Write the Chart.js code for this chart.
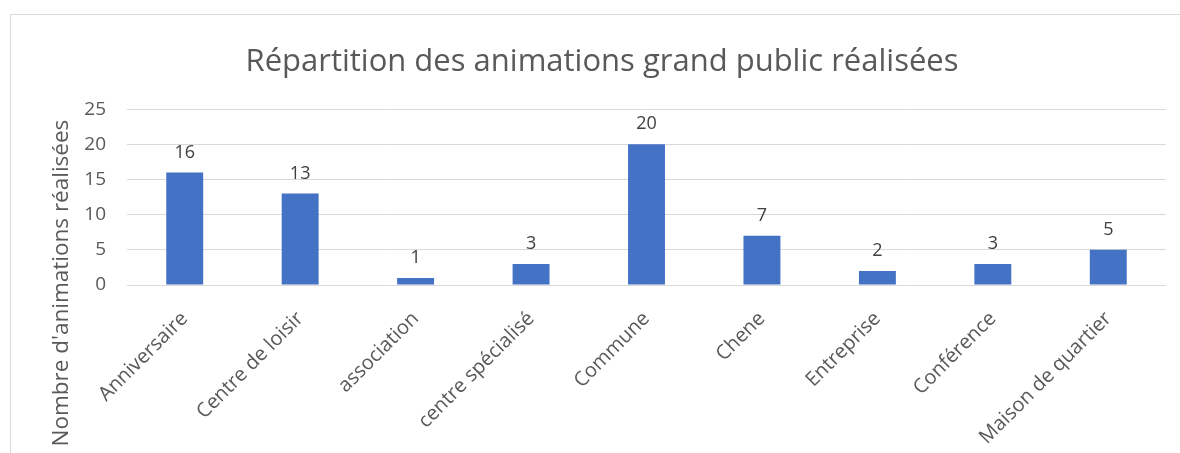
<!DOCTYPE html>
<html>
<head>
<meta charset="utf-8">
<script src="https://cdn.jsdelivr.net/npm/chart.js@4"></script>
<style>
  body { margin: 0; background: #fff; }
  #frame {
    position: absolute; left: 10px; top: 14px; width: 1180px; height: 460px;
    border: 1px solid #d9d9d9; box-sizing: border-box;
  }
  #wrap { position: absolute; left: 0; top: 0; width: 1180px; height: 453px; }
</style>
</head>
<body>
<div id="frame"></div>
<div id="wrap"><canvas id="myChart" width="1180" height="453"></canvas></div>
<script>
const categories = ['Anniversaire', 'Centre de loisir', 'association', 'centre spécialisé', 'Commune', 'Chene', 'Entreprise', 'Conférence', 'Maison de quartier'];
const animations = [16, 13, 1, 3, 20, 7, 2, 3, 5];
const yTicks = [0, 5, 10, 15, 20, 25];

const fontName = '"Open Sans", sans-serif';

// valeurs au-dessus des barres
const valueLabels = {
  id: 'valueLabels',
  afterDatasetsDraw(chart) {
    const ctx = chart.ctx;
    const meta = chart.getDatasetMeta(0);
    ctx.save();
    ctx.fillStyle = '#404040';
    ctx.font = '18px ' + fontName;
    ctx.textAlign = 'center';
    ctx.textBaseline = 'bottom';
    meta.data.forEach((bar, i) => {
      ctx.fillText(animations[i], bar.x, bar.y - 11);
    });
    ctx.restore();
  }
};

// titre de l'axe y, centré sur toute la hauteur comme dans Excel
const yTitle = {
  id: 'yTitle',
  afterDraw(chart) {
    const ctx = chart.ctx;
    const area = chart.chartArea;
    ctx.save();
    ctx.translate(62, (area.top + chart.height) / 2 + 2);
    ctx.rotate(-Math.PI / 2);
    ctx.fillStyle = '#595959';
    ctx.font = '22.5px ' + fontName;
    ctx.textAlign = 'center';
    ctx.textBaseline = 'middle';
    ctx.fillText("Nombre d'animations réalisées", 0, 0);
    ctx.restore();
  }
};

new Chart(document.getElementById('myChart'), {
  type: 'bar',
  data: {
    labels: categories,
    datasets: [{
      label: 'Animations',
      data: animations,
      backgroundColor: '#4472C4',
      barPercentage: 0.32,
      categoryPercentage: 1
    }]
  },
  options: {
    responsive: false,
    animation: false,
    layout: { padding: { top: 44, right: 14, left: 38, bottom: 0 } },
    plugins: {
      legend: { display: false },
      tooltip: { enabled: false },
      title: {
        display: true,
        text: 'Répartition des animations grand public réalisées',
        color: '#595959',
        font: { family: fontName, size: 31, weight: 'normal' },
        padding: { top: 0, bottom: 28 }
      }
    },
    scales: {
      x: {
        grid: { display: false },
        border: { display: false },
        ticks: {
          color: '#595959',
          font: { family: fontName, size: 20 },
          minRotation: 45,
          maxRotation: 45,
          padding: 14
        },
        afterFit(scale) { scale.height = 168; }
      },
      y: {
        min: 0,
        max: 25,
        afterBuildTicks(scale) { scale.ticks = yTicks.map(v => ({ value: v })); },
        grid: { color: '#d9d9d9', drawTicks: false },
        border: { display: false },
        ticks: {
          color: '#595959',
          font: { family: fontName, size: 19 },
          padding: 21
        },
        afterFit(scale) { scale.width = 89; }
      }
    }
  },
  plugins: [valueLabels, yTitle]
});
</script>
</body>
</html>
